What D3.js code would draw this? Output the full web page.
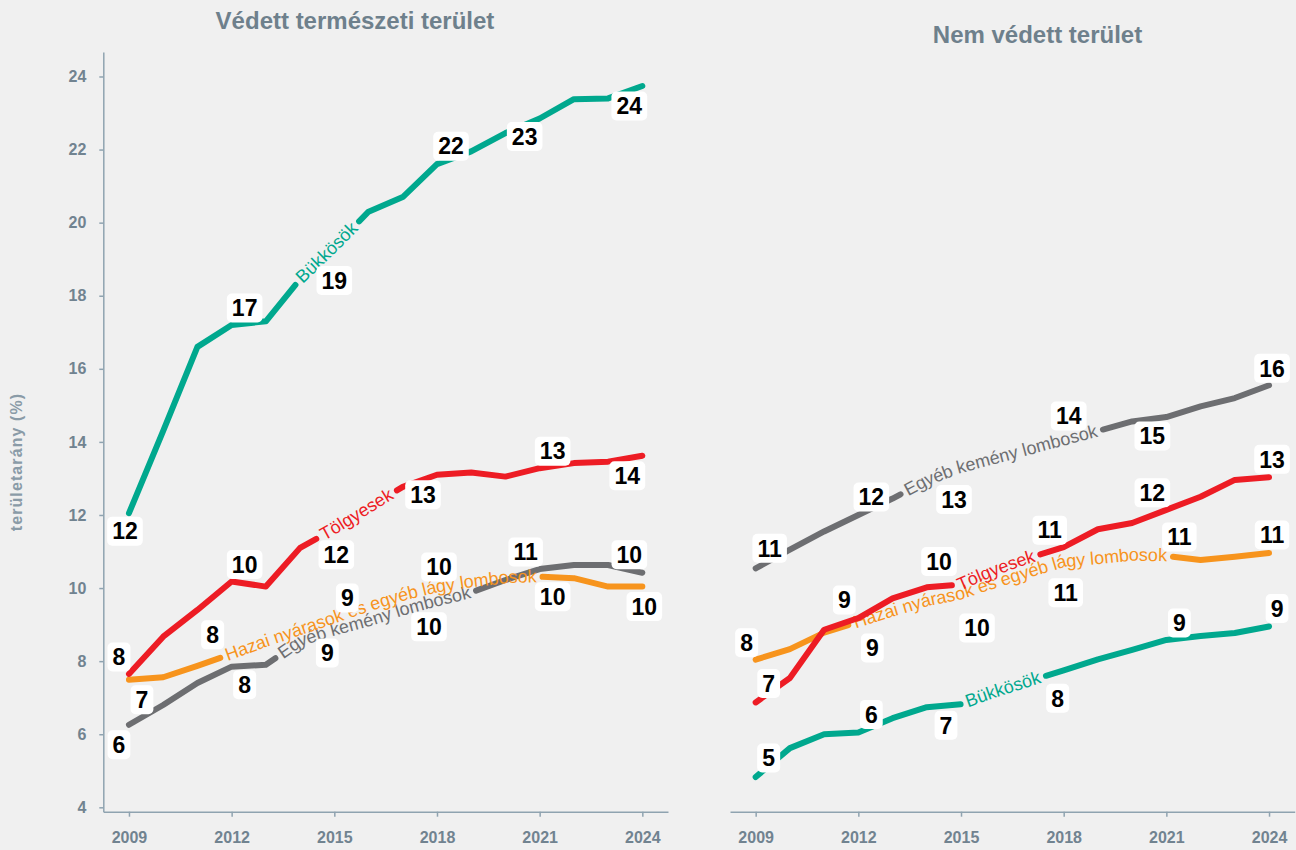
<!DOCTYPE html>
<html>
<head>
<meta charset="utf-8">
<script src="https://cdn.jsdelivr.net/npm/d3@7"></script>
<style>
  body { margin: 0; background: #f0f0f0; }
  svg text { font-family: Arial, "Liberation Sans", sans-serif; }
</style>
</head>
<body>
<svg id="chart" width="1296" height="850"></svg>
<script>
const years = [2009, 2010, 2011, 2012, 2013, 2014, 2015, 2016, 2017, 2018, 2019, 2020, 2021, 2022, 2023, 2024]
const labelYears = [2009, 2012, 2015, 2018, 2021, 2024]
const xTicks = [2009, 2012, 2015, 2018, 2021, 2024]
const yTicks = [4, 6, 8, 10, 12, 14, 16, 18, 20, 22, 24]

const seriesNames = ["Bükkösök", "Tölgyesek", "Hazai nyárasok és egyéb lágy lombosok", "Egyéb kemény lombosok"]
const seriesColors = ["#00a88e", "#ed1c24", "#f7941d", "#6d6e71"]

// Védett természeti terület (%)
const vedettBukk = [12.05, 14.3, 16.6, 17.2, 17.3, 18.45, 19.35, 20.3, 20.7, 21.6, 21.95, 22.45, 22.85, 23.38, 23.4, 23.74]
const vedettTolgy = [7.65, 8.67, 9.4, 10.18, 10.04, 11.1, 11.62, 12.2, 12.77, 13.1, 13.16, 13.05, 13.28, 13.42, 13.46, 13.62]
const vedettNyar = [7.49, 7.56, 7.87, 8.2, 8.54, 8.86, 9.18, 9.51, 9.8, 10.03, 10.17, 10.28, 10.31, 10.27, 10.04, 10.04]
const vedettKemeny = [6.26, 6.8, 7.4, 7.85, 7.9, 8.55, 8.85, 9.1, 9.4, 9.65, 9.88, 10.22, 10.52, 10.63, 10.63, 10.42]

// Nem védett terület (%)
const nemBukk = [4.83, 5.62, 6.0, 6.05, 6.44, 6.74, 6.82, 7.16, 7.46, 7.75, 8.05, 8.31, 8.58, 8.69, 8.77, 8.95]
const nemTolgy = [6.87, 7.54, 8.86, 9.18, 9.72, 10.02, 10.1, 10.5, 10.83, 11.12, 11.61, 11.78, 12.14, 12.5, 12.96, 13.03]
const nemNyar = [8.04, 8.33, 8.78, 9.07, 9.37, 9.65, 9.84, 10.15, 10.44, 10.72, 10.8, 10.9, 10.88, 10.77, 10.86, 10.96]
const nemKemeny = [10.54, 11.05, 11.55, 12.0, 12.45, 12.95, 13.3, 13.55, 13.8, 14.05, 14.3, 14.56, 14.68, 14.97, 15.2, 15.55]

// where the series name starts along each line (year)
const vedettNameStart = [2013.92, 2014.55, 2011.75, 2013.35]
const nemNameStart = [2015.07, 2014.82, 2011.79, 2013.31]

// value label offsets [dx, dy] from the point
const vedettLabelOffsets = [
    [[-4, 18], [13, -17], [0, 34], [14, -18], [-15, 18], [-13, 20]],
    [[-10, -17], [13, -17], [2, 26], [-14, 20], [13, -17], [-15, 20]],
    [[13, 20], [-19, -19], [13, -20], [2, -20], [13, 20], [2, 20]],
    [[-10, 20], [13, 18], [-7, 23], [-8, 26], [-14, -17], [-13, -18]]
]
const nemLabelOffsets = [
    [[13, -19], [13, -18], [-15, 21], [-6, 28], [13, -17], [8, -18]],
    [[13, -19], [-14, -18], [-22, -23], [-14, -17], [-14, -17], [3, -18]],
    [[-9, -17], [14, 26], [16, 34], [2, 31], [13, -19], [3, -18]],
    [[14, -20], [13, -18], [-7, 32], [5, -24], [-14, 19], [3, -17]]
]

const svg = d3.select("#chart")
const axisColor = "#8fa3b0"
const tickColor = "#718390"

const y = d3.scaleLinear().domain([3.88, 24.67]).range([811.7, 52])

const panels = [
    {title: "Védett természeti terület", titleX: 355, titleY: 28.5, xRange: [103.3, 668], yAxis: true,
     values: [vedettBukk, vedettTolgy, vedettNyar, vedettKemeny], nameStart: vedettNameStart, offsets: vedettLabelOffsets},
    {title: "Nem védett terület", titleX: 1037.5, titleY: 43.3, xRange: [730, 1294.7], yAxis: false,
     values: [nemBukk, nemTolgy, nemNyar, nemKemeny], nameStart: nemNameStart, offsets: nemLabelOffsets}
]

// y axis title
svg.append("text")
    .attr("transform", "translate(22,462) rotate(-90)")
    .attr("text-anchor", "middle")
    .attr("font-size", 16)
    .attr("font-weight", "bold")
    .attr("letter-spacing", 1.1)
    .attr("fill", "#8a9ba7")
    .text("területarány (%)")

// draw order: grey, orange, red, green
const drawOrder = [3, 2, 1, 0]

panels.forEach((p, pi) => {
    const x = d3.scaleLinear().domain([2008.25, 2024.75]).range(p.xRange)
    const g = svg.append("g")

    g.append("text")
        .attr("x", p.titleX).attr("y", p.titleY)
        .attr("text-anchor", "middle")
        .attr("font-size", 24)
        .attr("font-weight", "bold")
        .attr("fill", "#6e808c")
        .text(p.title)

    const xAxis = g.append("g")
        .attr("transform", `translate(0,${y.range()[0]})`)
        .call(d3.axisBottom(x).tickValues(xTicks).tickFormat(d3.format("d")).tickSize(5).tickSizeOuter(0).tickPadding(15))
    xAxis.select(".domain").attr("stroke", axisColor).attr("stroke-width", 1.5)
    xAxis.selectAll(".tick line").attr("stroke", axisColor).attr("stroke-width", 1.5)
    xAxis.selectAll(".tick text").attr("fill", tickColor).attr("font-size", 16).attr("font-weight", "bold")
        .attr("font-family", "Arial, 'Liberation Sans', sans-serif")

    if (p.yAxis) {
        const yAxis = g.append("g")
            .attr("transform", `translate(${p.xRange[0]},0)`)
            .call(d3.axisLeft(y).tickValues(yTicks).tickSize(4).tickSizeOuter(0).tickPadding(13))
        yAxis.select(".domain").attr("stroke", axisColor).attr("stroke-width", 1.5)
        yAxis.selectAll(".tick line").attr("stroke", axisColor).attr("stroke-width", 1.5)
        yAxis.selectAll(".tick text").attr("fill", tickColor).attr("font-size", 16).attr("font-weight", "bold")
            .attr("font-family", "Arial, 'Liberation Sans', sans-serif")
    }

    const line = d3.line()
        .x((d, i) => x(years[i]))
        .y(d => y(d))

    const lineLayer = g.append("g")
    const labelLayer = g.append("g")

    drawOrder.forEach(si => {
        const vals = p.values[si]
        const color = seriesColors[si]
        const id = `line-${pi}-${si}`
        const path = lineLayer.append("path")
            .datum(vals)
            .attr("id", id)
            .attr("d", line)
            .attr("fill", "none")
            .attr("stroke", color)
            .attr("stroke-width", 6)
            .attr("stroke-linecap", "round")
            .attr("stroke-linejoin", "round")

        // find length along path where the series name starts
        const node = path.node()
        const total = node.getTotalLength()
        const xt = x(p.nameStart[si])
        let lo = 0, hi = total
        for (let k = 0; k < 40; k++) {
            const mid = (lo + hi) / 2
            if (node.getPointAtLength(mid).x < xt) lo = mid
            else hi = mid
        }
        const ls = lo
        const pad = 3

        const nameText = lineLayer.append("text")
            .attr("font-size", 18)
            .attr("fill", color)
            .attr("dy", "0.3em")
        nameText.append("textPath")
            .attr("href", "#" + id)
            .attr("startOffset", ls + pad)
            .text(seriesNames[si])
        const tl = nameText.node().getComputedTextLength()
        path.attr("stroke-dasharray", `${Math.max(ls - 3, 0)} ${tl + 2 * pad + 6} ${total}`)

        // value labels
        labelYears.forEach((yr, li) => {
            const idx = years.indexOf(yr)
            const v = vals[idx]
            const off = p.offsets[si][li]
            const lg = labelLayer.append("g")
                .attr("transform", `translate(${x(yr) + off[0]},${y(v) + off[1]})`)
            const rect = lg.append("rect").attr("fill", "#ffffff")
            const t = lg.append("text")
                .attr("text-anchor", "middle")
                .attr("dy", "0.36em")
                .attr("font-size", 23)
                .attr("font-weight", "bold")
                .attr("fill", "#000")
                .text(d3.format("d")(Math.round(v)))
            const bb = t.node().getBBox()
            const w = bb.width + 10, h = 29
            rect.attr("x", -w / 2).attr("y", -h / 2).attr("width", w).attr("height", h).attr("rx", 5)
        })
    })
})
</script>
</body>
</html>
